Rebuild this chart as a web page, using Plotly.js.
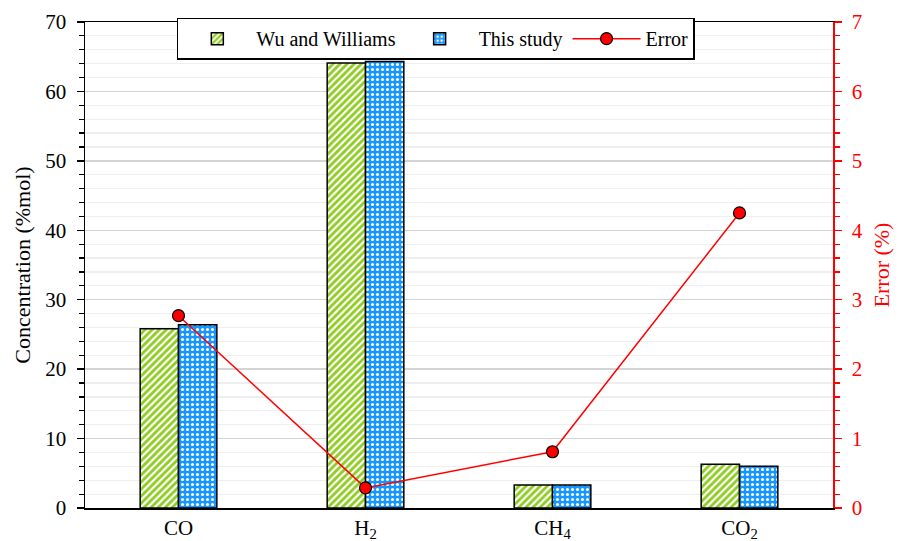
<!DOCTYPE html>
<html>
<head>
<meta charset="utf-8">
<script src="https://cdn.plot.ly/plotly-3.0.1.min.js"></script>
<style>html,body{margin:0;padding:0;background:#fff;}#chart{width:902px;height:541px;}</style>
</head>
<body>
<div id="chart"></div>
<script>
const categories = ['CO', 'H<sub>2</sub>', 'CH<sub>4</sub>', 'CO<sub>2</sub>'];
const wuWilliams = [25.8, 64.1, 3.3, 6.3];
const thisStudy = [26.4, 64.3, 3.3, 6.0];
const errorPct = [2.77, 0.29, 0.81, 4.25];

const fontFam = '"Times New Roman", "Liberation Serif", serif';

const traces = [
  {
    type: 'bar', name: 'Wu and Williams', x: categories, y: wuWilliams,
    marker: {
      color: '#ffffff',
      line: {color: '#000000', width: 1.5},
      pattern: {shape: '/', fgcolor: '#8fcc22', bgcolor: '#ffffff', size: 5, solidity: 0.55}
    }
  },
  {
    type: 'bar', name: 'This study', x: categories, y: thisStudy,
    marker: {
      color: '#ffffff',
      line: {color: '#000000', width: 1.5},
      pattern: {shape: '.', fgcolor: '#ffffff', bgcolor: '#1597ff', size: 5, solidity: 0.3}
    }
  },
  {
    type: 'scatter', mode: 'lines+markers', name: 'Error', x: categories, y: errorPct, yaxis: 'y2',
    line: {color: '#ff0000', width: 1.5},
    marker: {color: '#ff0000', size: 12, line: {color: '#000000', width: 1.2}}
  }
];

const layout = {
  width: 902, height: 541,
  margin: {l: 85, r: 69, t: 22, b: 33},
  paper_bgcolor: '#ffffff', plot_bgcolor: '#ffffff',
  font: {family: fontFam, size: 21, color: '#000000'},
  barmode: 'group', bargap: 0.59, bargroupgap: 0,
  showlegend: true,
  legend: {
    orientation: 'h', x: 0.469, xanchor: 'center', y: 1.009, yanchor: 'top',
    bgcolor: '#ffffff', bordercolor: '#000000', borderwidth: 1.5,
    font: {family: fontFam, size: 20, color: '#000000'},
    traceorder: 'normal', itemwidth: 68
  },
  xaxis: {
    showline: true, linecolor: '#000000', linewidth: 1.5, mirror: true,
    ticks: '', showgrid: false,
    tickfont: {family: fontFam, size: 21, color: '#000000'}
  },
  yaxis: {
    range: [0, 70], dtick: 10, tick0: 0,
    showline: true, linecolor: '#000000', linewidth: 1.5,
    ticks: 'outside', ticklen: 7, tickwidth: 1.5, tickcolor: '#000000',
    ticklabelstandoff: 6,
    showgrid: true, gridcolor: '#d4d4d4', gridwidth: 1.5,
    zeroline: false,
    minor: {dtick: 2, ticks: 'outside', ticklen: 5, tickcolor: '#000000', tickwidth: 1.2, showgrid: true, gridcolor: '#eeeeee', gridwidth: 1.2},
    title: {text: 'Concentration (%mol)', font: {family: fontFam, size: 22, color: '#000000'}, standoff: 8},
    tickfont: {family: fontFam, size: 21, color: '#000000'}
  },
  yaxis2: {
    overlaying: 'y', side: 'right',
    range: [0, 7], dtick: 1, tick0: 0,
    showline: true, linecolor: '#ff0000', linewidth: 1.5,
    ticks: 'outside', ticklen: 7, tickwidth: 1.5, tickcolor: '#ff0000',
    ticklabelstandoff: 6,
    showgrid: false, zeroline: false,
    minor: {dtick: 0.2, ticks: 'outside', ticklen: 5, tickcolor: '#ff0000', tickwidth: 1.2, showgrid: false},
    title: {text: 'Error (%)', font: {family: fontFam, size: 22, color: '#ff0000'}, standoff: 12},
    tickfont: {family: fontFam, size: 21, color: '#ff0000'}
  }
};

Plotly.newPlot('chart', traces, layout, {displayModeBar: false, staticPlot: true});
</script>
</body>
</html>
